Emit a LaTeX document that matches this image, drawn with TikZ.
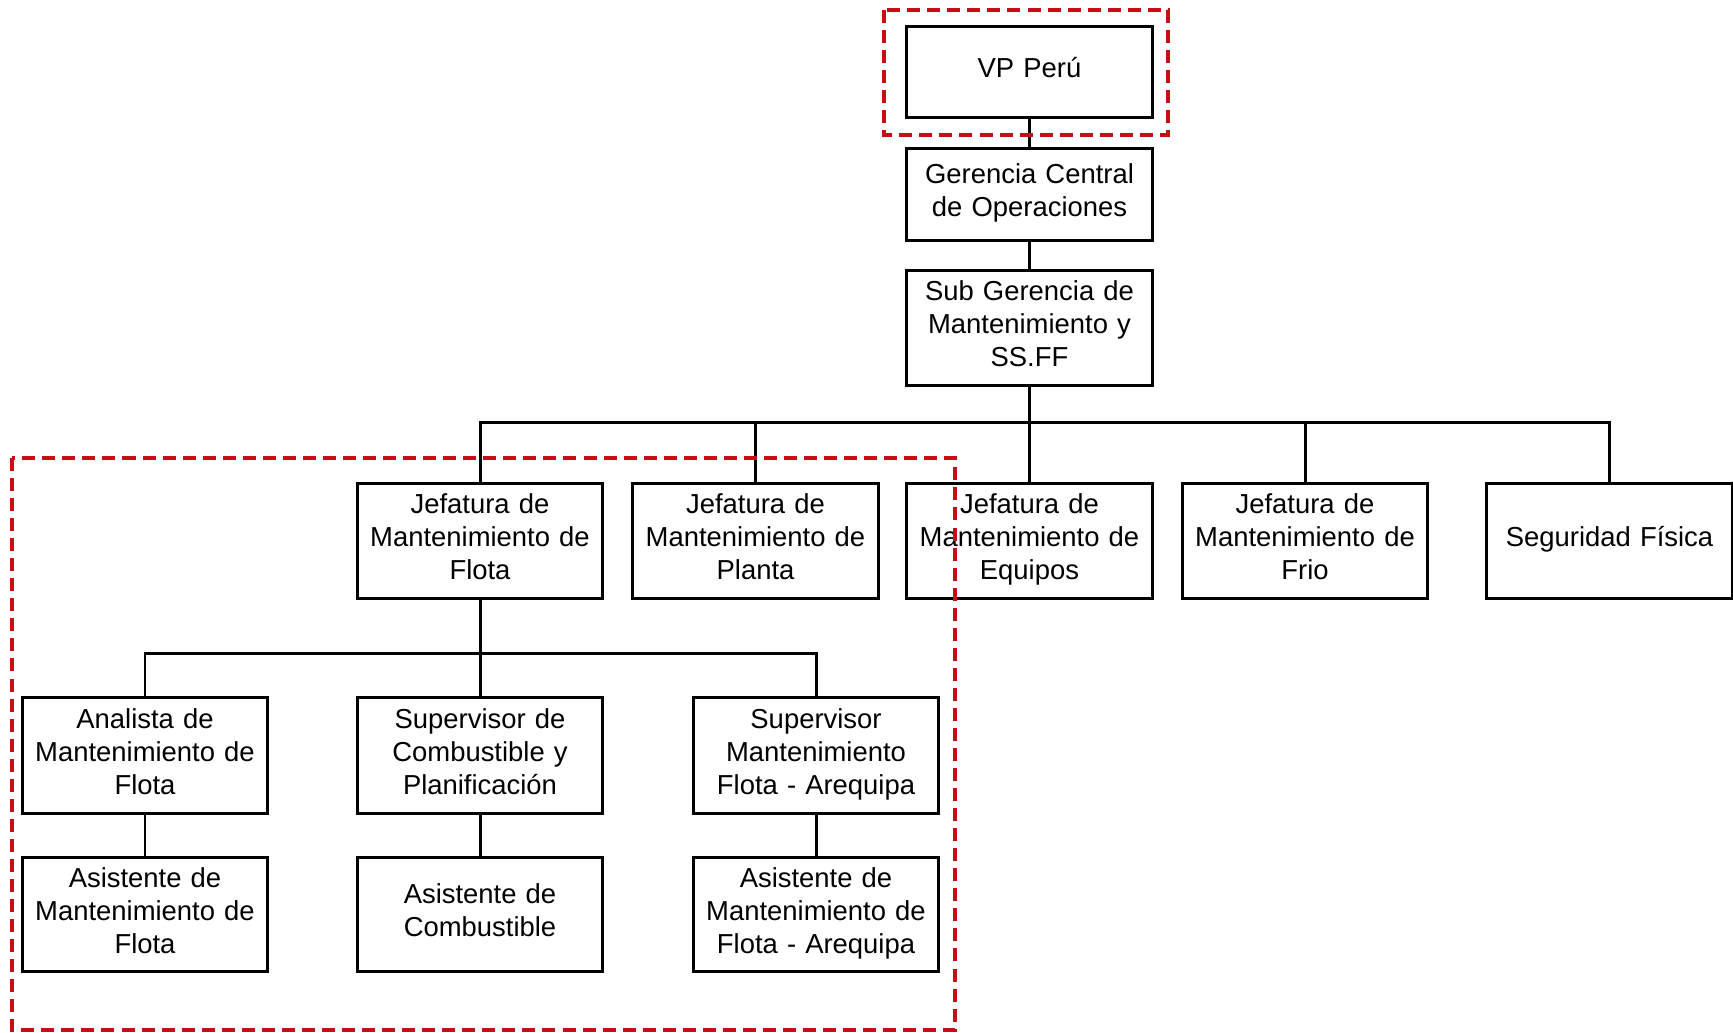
\documentclass[tikz,border=0pt]{standalone}
\usepackage{fontspec}
\setmainfont{Liberation Sans}
\usepackage{xcolor}
\usetikzlibrary{calc}
\usetikzlibrary{positioning}
\definecolor{frame-red}{RGB}{200, 14, 20}

\tikzset{
  cargo/.style={draw=black, line width=0.85pt, fill=white, align=center,
    minimum width=2.45cm, text width=2.4cm, inner sep=0pt,
    font=\fontsize{7.8}{9.4}\selectfont,
    execute at begin node={\rule{0pt}{0.7\baselineskip}},
    execute at end node={\rule[-0.35\baselineskip]{0pt}{0pt}}},
  enlace/.style={draw=black, line width=0.85pt},
  marco/.style={draw=frame-red, line width=1.4pt, dash pattern=on 3.7pt off 2pt}
}

\begin{document}
\begin{tikzpicture}[x=0.01cm, y=-0.01cm]
\useasboundingbox (0,0) rectangle (1733,1032);
% direccion
\node[cargo, minimum height=0.905cm] (vp) at (1029.5,72) {VP Perú};
\node[cargo, minimum height=0.91cm] (gerencia) at (1029.5,194.5) {Gerencia Central\\de Operaciones};
\node[cargo, minimum height=1.14cm] (subgerencia) at (1029.5,328) {Sub Gerencia de\\Mantenimiento y\\SS.FF};
% jefaturas
\node[cargo, minimum height=1.14cm] (flota) at (480,541) {Jefatura de\\Mantenimiento de\\Flota};
\node[cargo, minimum height=1.14cm] (planta) at (755.5,541) {Jefatura de\\Mantenimiento de\\Planta};
\node[cargo, minimum height=1.14cm] (equipos) at (1029.5,541) {Jefatura de\\Mantenimiento de\\Equipos};
\node[cargo, minimum height=1.14cm] (frio) at (1305,541) {Jefatura de\\Mantenimiento de\\Frio};
\node[cargo, minimum height=1.14cm] (seguridad) at (1609.5,541) {Seguridad Física};
% flota
\node[cargo, minimum height=1.15cm] (analista) at (145,755.5) {Analista de\\Mantenimiento de\\Flota};
\node[cargo, minimum height=1.15cm] (supcomb) at (480,755.5) {Supervisor de\\Combustible y\\Planificación};
\node[cargo, minimum height=1.15cm] (supareq) at (816,755.5) {Supervisor\\Mantenimiento\\Flota - Arequipa};
\node[cargo, minimum height=1.13cm] (asisflota) at (145,914.5) {Asistente de\\Mantenimiento de\\Flota};
\node[cargo, minimum height=1.13cm] (asiscomb) at (480,914.5) {Asistente de\\Combustible};
\node[cargo, minimum height=1.13cm] (asisareq) at (816,914.5) {Asistente de\\Mantenimiento de\\Flota - Arequipa};

\coordinate (bus) at (1029.5,422);
\coordinate (busflota) at (480,653);

\draw[enlace] (vp) -- (gerencia);
\draw[enlace] (gerencia) -- (subgerencia);
\draw[enlace] (subgerencia) -- (equipos);
\draw[enlace] (flota.north) |- (bus) -| (seguridad.north);
\draw[enlace] (planta.north) -- (planta.north |- bus);
\draw[enlace] (frio.north) -- (frio.north |- bus);
\draw[enlace] (flota) -- (supcomb);
\draw[enlace] (analista.north) |- (busflota) -| (supareq.north);
\draw[enlace] (analista) -- (asisflota);
\draw[enlace] (supcomb) -- (asiscomb);
\draw[enlace] (supareq) -- (asisareq);

% recuadros
\draw[marco] (884,10) rectangle (1168,135);
\draw[marco] (12,458) rectangle (955,1030);
\end{tikzpicture}
\end{document}
